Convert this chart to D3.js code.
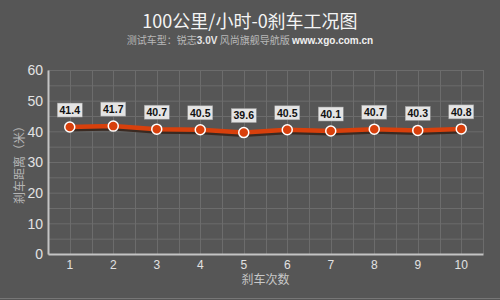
<!DOCTYPE html>
<html lang="zh">
<head>
<meta charset="utf-8">
<title>100公里/小时-0刹车工况图</title>
<script src="https://d3js.org/d3.v7.min.js"></script>
<style>
  body { margin: 0; background: #565656; }
  text { font-family: "Liberation Sans", Arial, "Noto Sans CJK SC", sans-serif; }
</style>
</head>
<body>
<script>
// data
var runs = ["1", "2", "3", "4", "5", "6", "7", "8", "9", "10"];
var distances = [41.4, 41.7, 40.7, 40.5, 39.6, 40.5, 40.1, 40.7, 40.3, 40.8];
var yTicks = [0, 10, 20, 30, 40, 50, 60];

var w = 500, h = 300;
var margin = {top: 70, right: 17, bottom: 46, left: 48};
var innerWidth = w - margin.left - margin.right;
var innerHeight = h - margin.top - margin.bottom;

var svg = d3.select("body").append("svg")
    .attr("width", w)
    .attr("height", h);

svg.append("rect")
    .attr("width", w).attr("height", h)
    .attr("fill", "#565656");
svg.append("line")
    .attr("x1", 0).attr("x2", w).attr("y1", 298.5).attr("y2", 298.5)
    .style("stroke", "#767676");

// title
svg.append("text")
    .attr("x", 250).attr("y", 28)
    .attr("text-anchor", "middle")
    .attr("fill", "#f4f4f4")
    .style("font-size", "18px")
    .style("font-family", "'Noto Sans CJK SC', sans-serif")
    .text("100公里/小时-0刹车工况图");

var sub = svg.append("text")
    .attr("x", 250).attr("y", 44)
    .attr("text-anchor", "middle")
    .attr("fill", "#b8b8b8")
    .style("font-size", "10px")
    .style("font-family", "'Noto Sans CJK SC', sans-serif");
sub.append("tspan").text("测试车型：锐志");
sub.append("tspan").attr("font-weight", "bold").attr("fill", "#e6e6e6")
    .style("font-family", "'Liberation Sans', sans-serif").text("3.0V");
sub.append("tspan").text(" 风尚旗舰导航版  ");
sub.append("tspan").attr("font-weight", "bold").attr("fill", "#f0f0f0")
    .style("font-family", "'Liberation Sans', sans-serif").text("www.xgo.com.cn");

// scales
var xScale = d3.scaleBand()
    .domain(runs)
    .range([0, innerWidth]);

var yScale = d3.scaleLinear()
    .domain([0, 60])
    .range([innerHeight, 0]);

var g = svg.append("g")
    .attr("transform", `translate(${margin.left},${margin.top})`);

// grid lines
var gridY = d3.range(0, 61, 5);
g.selectAll(".hgrid").data(gridY).enter().append("line")
    .attr("x1", 0).attr("x2", innerWidth)
    .attr("y1", d => yScale(d) + 0.5).attr("y2", d => yScale(d) + 0.5)
    .style("stroke", "#6c6c6c").style("stroke-width", 1);

var gridX = [];
runs.forEach(function (r) {
  gridX.push(xScale(r));
  gridX.push(xScale(r) + xScale.bandwidth() / 2);
});
gridX.push(innerWidth);
g.selectAll(".vgrid").data(gridX).enter().append("line")
    .attr("x1", d => Math.round(d) + 0.5).attr("x2", d => Math.round(d) + 0.5)
    .attr("y1", 0).attr("y2", innerHeight)
    .style("stroke", "#6c6c6c").style("stroke-width", 1);

// axes
var xAxis = d3.axisBottom(xScale).tickSize(0).tickPadding(6);
var yAxis = d3.axisLeft(yScale).tickValues(yTicks).tickSize(0).tickPadding(5);

var gx = g.append("g")
    .attr("transform", `translate(0,${innerHeight})`)
    .call(xAxis);
gx.select(".domain").style("stroke", "#c4c4c4").style("stroke-width", 2);
gx.selectAll("text").attr("fill", "#e2e2e2").style("font-size", "12px");

var gy = g.append("g").call(yAxis);
gy.select(".domain").style("stroke", "#c4c4c4").style("stroke-width", 2);
gy.selectAll("text").attr("fill", "#e2e2e2").style("font-size", "14px").attr("dy", "0.35em");

// axis titles
svg.append("text")
    .attr("transform", `translate(24,${margin.top + innerHeight / 2}) rotate(-90)`)
    .attr("text-anchor", "middle")
    .attr("fill", "#b4b4b4")
    .style("font-size", "12px")
    .style("font-family", "'Noto Sans CJK SC', sans-serif")
    .text("刹车距离（米）");

svg.append("text")
    .attr("x", margin.left + innerWidth / 2).attr("y", 284)
    .attr("text-anchor", "middle")
    .attr("fill", "#c8c8c8")
    .style("font-size", "12px")
    .style("font-family", "'Noto Sans CJK SC', sans-serif")
    .text("刹车次数");

// line
var points = runs.map((r, i) => ({run: r, value: distances[i]}));
var cx = d => xScale(d.run) + xScale.bandwidth() / 2;

var line = d3.line()
    .x(cx)
    .y(d => yScale(d.value));

g.append("path")
    .datum(points)
    .attr("d", line)
    .attr("transform", "translate(0,2)")
    .attr("fill", "none")
    .style("stroke", "#3a2a22")
    .style("stroke-width", 5);

g.append("path")
    .datum(points)
    .attr("d", line)
    .attr("fill", "none")
    .style("stroke", "#d8400c")
    .style("stroke-width", 4.5);

g.selectAll(".dot").data(points).enter().append("circle")
    .attr("cx", cx)
    .attr("cy", d => yScale(d.value))
    .attr("r", 5)
    .attr("fill", "#d8400c")
    .style("stroke", "#ffffff")
    .style("stroke-width", 1.5);

// value labels
var labels = g.selectAll(".lbl").data(points).enter().append("g")
    .attr("transform", d => `translate(${cx(d)},${yScale(d.value) - 17})`);

labels.append("rect")
    .attr("x", -12.5).attr("y", -7)
    .attr("width", 25).attr("height", 14)
    .attr("fill", "#e4e4e4")
    .style("stroke", "#9a9a9a")
    .style("stroke-width", 0.5);

labels.append("text")
    .attr("text-anchor", "middle")
    .attr("dy", "0.36em")
    .attr("fill", "#111")
    .attr("font-weight", "bold")
    .style("font-size", "10.5px")
    .text(d => d.value.toFixed(1));
</script>
</body>
</html>
